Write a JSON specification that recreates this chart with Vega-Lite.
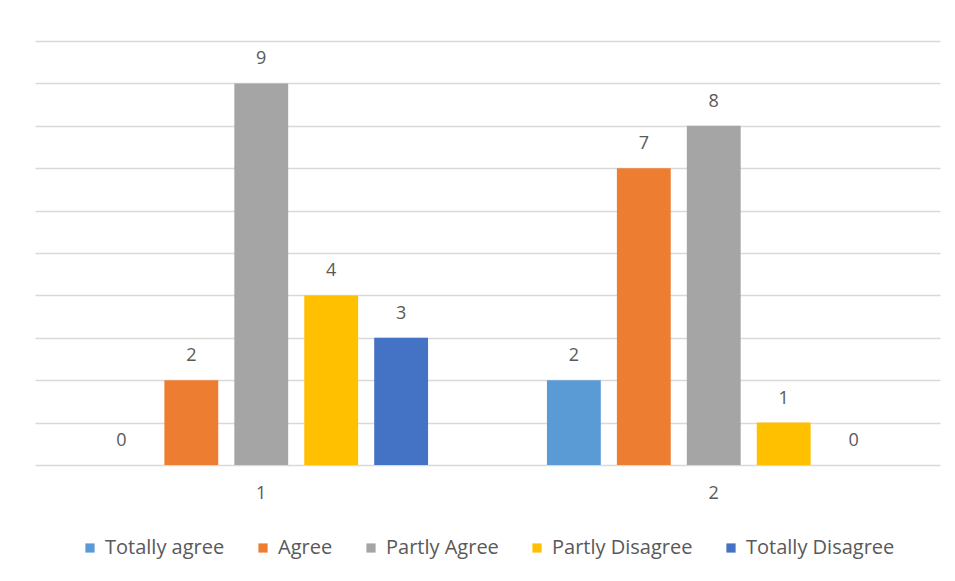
{
  "$schema": "https://vega.github.io/schema/vega-lite/v6.json",
  "width": 905,
  "height": 424,
  "padding": {"left": 35, "top": 41, "right": 15, "bottom": 10},
  "background": "white",
  "data": {
    "values": [
      {"group": "1", "response": "Totally agree", "count": 0},
      {"group": "1", "response": "Agree", "count": 2},
      {"group": "1", "response": "Partly Agree", "count": 9},
      {"group": "1", "response": "Partly Disagree", "count": 4},
      {"group": "1", "response": "Totally Disagree", "count": 3},
      {"group": "2", "response": "Totally agree", "count": 2},
      {"group": "2", "response": "Agree", "count": 7},
      {"group": "2", "response": "Partly Agree", "count": 8},
      {"group": "2", "response": "Partly Disagree", "count": 1},
      {"group": "2", "response": "Totally Disagree", "count": 0}
    ]
  },
  "encoding": {
    "x": {
      "field": "group",
      "type": "nominal",
      "scale": {"paddingInner": 0, "paddingOuter": 0},
      "axis": {
        "title": null,
        "labelAngle": 0,
        "domain": false,
        "ticks": false,
        "labelPadding": 19,
        "labelFont": "Open Sans",
        "labelFontSize": 18,
        "labelColor": "#595959"
      }
    },
    "xOffset": {
      "field": "response",
      "type": "nominal",
      "sort": ["Totally agree", "Agree", "Partly Agree", "Partly Disagree", "Totally Disagree"],
      "scale": {"paddingInner": 0.23, "paddingOuter": 0.85}
    },
    "y": {
      "field": "count",
      "type": "quantitative",
      "scale": {"domain": [0, 10], "nice": false},
      "axis": {
        "title": null,
        "domain": false,
        "ticks": false,
        "labels": false,
        "grid": true,
        "gridColor": "#d9d9d9",
        "gridWidth": 1.3,
        "values": [0, 1, 2, 3, 4, 5, 6, 7, 8, 9, 10]
      }
    }
  },
  "layer": [
    {
      "mark": {"type": "bar"},
      "encoding": {
        "color": {
          "field": "response",
          "type": "nominal",
          "sort": ["Totally agree", "Agree", "Partly Agree", "Partly Disagree", "Totally Disagree"],
          "scale": {
            "domain": ["Totally agree", "Agree", "Partly Agree", "Partly Disagree", "Totally Disagree"],
            "range": ["#5B9BD5", "#ED7D31", "#A5A5A5", "#FFC000", "#4472C4"]
          },
          "legend": {
            "title": null,
            "orient": "none",
            "legendX": 45,
            "legendY": 497,
            "padding": 0,
            "direction": "horizontal",
            "symbolType": "square",
            "symbolSize": 85,
            "symbolStrokeWidth": 0,
            "labelFont": "Open Sans",
            "labelFontSize": 20,
            "labelColor": "#595959",
            "labelOffset": 5,
            "columnPadding": 28
          }
        }
      }
    },
    {
      "mark": {
        "type": "text",
        "baseline": "alphabetic",
        "dy": -19,
        "font": "Open Sans",
        "fontSize": 18,
        "color": "#595959"
      },
      "encoding": {"text": {"field": "count", "type": "quantitative"}}
    }
  ],
  "config": {"view": {"stroke": null}}
}
